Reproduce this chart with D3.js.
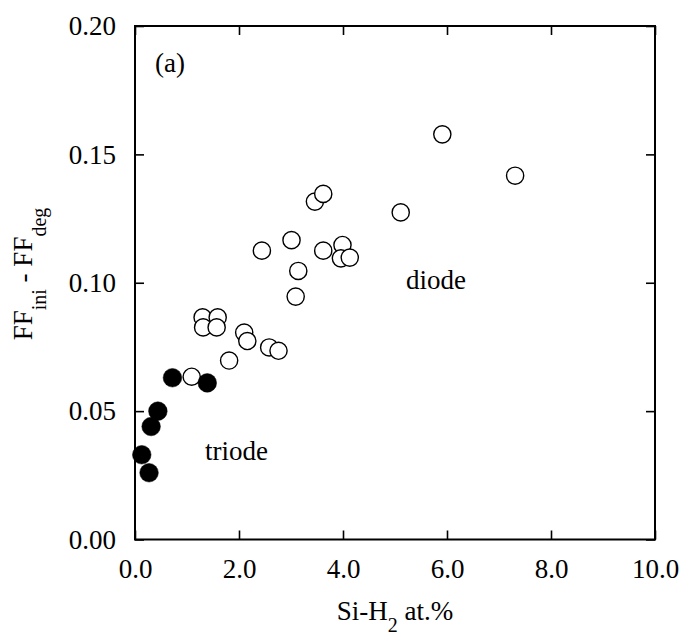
<!DOCTYPE html>
<html>
<head>
<meta charset="utf-8">
<script src="https://cdn.jsdelivr.net/npm/d3@7"></script>
<style>
  html, body { margin: 0; padding: 0; background: #fff; }
  svg { display: block; }
</style>
</head>
<body>
<div id="chart"></div>
<script>
// ---- Data ----
const triodeX = [0.13, 0.27, 0.31, 0.44, 0.72, 1.39];
const triodeY = [0.033, 0.026, 0.044, 0.050, 0.063, 0.061];

const diodeX = [1.09, 1.30, 1.31, 1.59, 1.57, 1.81, 2.10, 2.16, 2.58, 2.76, 2.44,
                3.01, 3.09, 3.14, 3.46, 3.62, 3.62, 3.99, 3.96, 4.13, 5.11, 5.91, 7.31];
const diodeY = [0.0634, 0.0865, 0.0826, 0.0865, 0.0826, 0.0697, 0.0806, 0.0773, 0.0748, 0.0735, 0.1125,
                0.1166, 0.0946, 0.1046, 0.1316, 0.1346, 0.1125, 0.1147, 0.1095, 0.1098, 0.1274, 0.1578, 0.1417];

const xTicks = [0, 2, 4, 6, 8, 10];
const yTicks = [0, 0.05, 0.10, 0.15, 0.20];
const xTickLabels = ["0.0", "2.0", "4.0", "6.0", "8.0", "10.0"];
const yTickLabels = ["0.00", "0.05", "0.10", "0.15", "0.20"];

// ---- Layout ----
const W = 679, H = 637;
const margin = { left: 135, top: 26, right: 24, bottom: 97.5 };
const iw = W - margin.left - margin.right;
const ih = H - margin.top - margin.bottom;
const FONT = 27;
const TICK = 9;
const SERIF = '"Liberation Serif"';

const svg = d3.select("#chart").append("svg").attr("width", W).attr("height", H)
  .attr("font-family", SERIF);
const g = svg.append("g").attr("transform", `translate(${margin.left},${margin.top})`);

const x = d3.scaleLinear().domain([0, 10]).range([0, iw]);
const y = d3.scaleLinear().domain([0, 0.20]).range([ih, 0]);

function styleAxis(sel, showLabels) {
  sel.attr("font-family", SERIF).attr("font-size", FONT);
  sel.select(".domain").remove();
  sel.selectAll(".tick line").attr("stroke", "#000").attr("stroke-width", 1.6);
  sel.selectAll(".tick text").attr("fill", "#000");
  if (!showLabels) sel.selectAll(".tick text").remove();
}

g.append("g").attr("transform", `translate(0,${ih})`)
  .call(d3.axisBottom(x).tickValues(xTicks).tickFormat((d, i) => xTickLabels[i])
    .tickSizeInner(-TICK).tickSizeOuter(0).tickPadding(19))
  .call(s => styleAxis(s, true));
g.append("g")
  .call(d3.axisTop(x).tickValues(xTicks).tickSizeInner(-TICK).tickSizeOuter(0))
  .call(s => styleAxis(s, false));
g.append("g")
  .call(d3.axisLeft(y).tickValues(yTicks).tickFormat((d, i) => yTickLabels[i])
    .tickSizeInner(-TICK).tickSizeOuter(0).tickPadding(19))
  .call(s => styleAxis(s, true));
g.append("g").attr("transform", `translate(${iw},0)`)
  .call(d3.axisRight(y).tickValues(yTicks).tickSizeInner(-TICK).tickSizeOuter(0))
  .call(s => styleAxis(s, false));

// frame
g.append("rect").attr("x", 0).attr("y", 0).attr("width", iw).attr("height", ih)
  .attr("fill", "none").attr("stroke", "#000").attr("stroke-width", 2);

// points
const R = 8.6;
g.append("g").selectAll("circle").data(diodeX.map((v, i) => [v, diodeY[i]])).join("circle")
  .attr("cx", d => x(d[0])).attr("cy", d => y(d[1])).attr("r", R)
  .attr("fill", "#fff").attr("stroke", "#000").attr("stroke-width", 1.4);
g.append("g").selectAll("circle").data(triodeX.map((v, i) => [v, triodeY[i]])).join("circle")
  .attr("cx", d => x(d[0])).attr("cy", d => y(d[1])).attr("r", R + 0.7)
  .attr("fill", "#000").attr("stroke", "#000").attr("stroke-width", 0.5);

// annotations
svg.append("text").attr("x", 155).attr("y", 72).attr("font-size", FONT).text("(a)");
svg.append("text").attr("x", 205).attr("y", 460).attr("font-size", FONT).text("triode");
svg.append("text").attr("x", 406).attr("y", 288.5).attr("font-size", FONT).text("diode");

// x axis title
const xt = svg.append("text").attr("x", margin.left + iw / 2).attr("y", 620)
  .attr("text-anchor", "middle").attr("font-size", FONT);
xt.append("tspan").text("Si-H");
xt.append("tspan").attr("dy", 12).attr("font-size", 20).text("2");
xt.append("tspan").attr("dy", -12).text(" at.%");

// y axis title
const yt = svg.append("text").attr("transform", `translate(32,274) rotate(-90)`)
  .attr("text-anchor", "middle").attr("font-size", FONT);
yt.append("tspan").text("FF");
yt.append("tspan").attr("dy", 14).attr("font-size", 20).text("ini");
yt.append("tspan").attr("dy", -14).text(" - FF");
yt.append("tspan").attr("dy", 14).attr("font-size", 20).text("deg");
</script>
</body>
</html>
